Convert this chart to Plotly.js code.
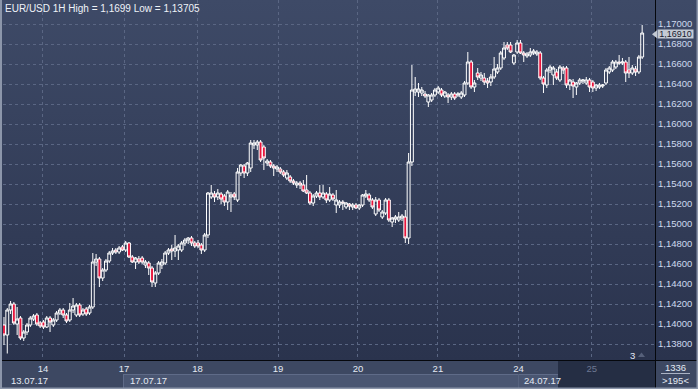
<!DOCTYPE html>
<html>
<head>
<meta charset="utf-8">
<script src="https://cdn.plot.ly/plotly-3.0.1.min.js"></script>
<style>
html,body{margin:0;padding:0;background:#2a334d;}
#chart{width:698px;height:389px;background:linear-gradient(to bottom,#3e4a67 0px,#2a334d 361px,#2a334d 389px);}
</style>
</head>
<body>
<div id="chart"></div>
<script>
// ---- data (EUR/USD 1H candles) ----
const O = [1.1399,1.1389,1.1414,1.1420,1.1400,1.1406,1.1386,1.1392,1.1399,1.1405,1.1409,1.1401,1.1402,1.1397,1.1406,1.1399,1.1404,1.1411,1.1414,1.1409,
1.1404,1.1414,1.1409,1.1419,1.1410,1.1415,1.1411,1.1417,1.1462,1.1465,1.1446,1.1454,1.1463,1.1471,1.1474,1.1472,1.1477,1.1474,1.1481,1.1467,
1.1462,1.1465,1.1466,1.1459,1.1461,1.1456,1.1441,1.1451,1.1459,1.1461,1.1471,1.1475,1.1473,1.1474,1.1474,1.1481,1.1484,1.1486,1.1481,1.1481,
1.1479,1.1474,1.1489,1.1527,1.1530,1.1527,1.1530,1.1528,1.1522,1.1527,1.1530,1.1524,1.1551,1.1558,1.1551,1.1556,1.1579,1.1579,1.1582,
1.1577,1.1561,1.1562,1.1558,1.1555,1.1555,1.1552,1.1546,1.1547,1.1543,1.1539,1.1541,1.1539,1.1534,1.1531,1.1521,1.1528,1.1531,
1.1527,1.1530,1.1524,1.1529,1.1519,1.1519,1.1522,1.1517,1.1520,1.1517,1.1519,1.1516,1.1519,1.1528,1.1529,1.1524,1.1510,1.1524,1.1507,1.1511,
1.1524,1.1502,1.1505,1.1504,1.1506,1.1507,1.1486,1.1562,1.1632,1.1632,1.1631,1.1630,1.1622,1.1624,1.1629,1.1632,1.1634,1.1628,1.1629,1.1627,
1.1630,1.1629,1.1627,1.1629,1.1641,1.1662,1.1637,1.1651,1.1646,1.1646,1.1643,1.1642,1.1647,1.1652,1.1656,1.1666,1.1679,1.1679,1.1661,1.1672,
1.1681,1.1671,1.1668,1.1669,1.1671,1.1670,1.1671,1.1646,1.1639,1.1654,1.1649,1.1652,1.1644,1.1656,1.1656,1.1639,1.1642,1.1637,1.1641,1.1643,
1.1641,1.1644,1.1642,1.1636,1.1637,1.1638,1.1641,1.1652,1.1654,1.1657,1.1662,1.1661,1.1662,1.1654,1.1651,1.1655,1.1652,1.1667];
const H = [1.1407,1.1416,1.1423,1.1422,1.1417,1.1408,1.1394,1.1401,1.1408,1.1410,1.1411,1.1403,1.1404,1.1408,1.1408,1.1406,1.1413,1.1416,1.1416,1.1411,
1.1421,1.1426,1.1421,1.1421,1.1416,1.1417,1.1419,1.1471,1.1470,1.1467,1.1456,1.1465,1.1473,1.1476,1.1476,1.1478,1.1479,1.1483,1.1482,1.1469,
1.1467,1.1468,1.1468,1.1464,1.1463,1.1458,1.1453,1.1463,1.1465,1.1473,1.1476,1.1479,1.1489,1.1480,1.1483,1.1486,1.1487,1.1488,1.1483,1.1484,
1.1481,1.1491,1.1532,1.1539,1.1533,1.1535,1.1532,1.1530,1.1534,1.1532,1.1532,1.1556,1.1560,1.1560,1.1562,1.1584,1.1584,1.1584,1.1584,
1.1579,1.1565,1.1564,1.1560,1.1559,1.1557,1.1554,1.1554,1.1549,1.1545,1.1543,1.1543,1.1544,1.1549,1.1533,1.1530,1.1533,1.1539,
1.1539,1.1532,1.1537,1.1531,1.1534,1.1524,1.1524,1.1522,1.1521,1.1521,1.1521,1.1520,1.1530,1.1534,1.1531,1.1526,1.1527,1.1526,1.1514,1.1526,
1.1526,1.1507,1.1509,1.1512,1.1510,1.1514,1.1571,1.1659,1.1647,1.1641,1.1637,1.1633,1.1630,1.1631,1.1636,1.1638,1.1636,1.1633,1.1631,1.1632,
1.1632,1.1632,1.1633,1.1643,1.1672,1.1664,1.1644,1.1656,1.1652,1.1651,1.1646,1.1650,1.1667,1.1660,1.1673,1.1682,1.1682,1.1682,1.1670,1.1684,
1.1684,1.1673,1.1672,1.1676,1.1675,1.1674,1.1673,1.1648,1.1656,1.1659,1.1658,1.1655,1.1659,1.1658,1.1658,1.1645,1.1645,1.1642,1.1646,1.1645,
1.1647,1.1646,1.1644,1.1640,1.1641,1.1640,1.1656,1.1658,1.1664,1.1664,1.1669,1.1666,1.1664,1.1667,1.1659,1.1658,1.1669,1.1699];
const L = [1.1379,1.13705,1.1410,1.1399,1.1389,1.1384,1.1383,1.1389,1.1397,1.1403,1.1398,1.1396,1.1395,1.1396,1.1392,1.1397,1.1402,1.1409,1.1406,1.1401,
1.1402,1.1411,1.1407,1.1407,1.1408,1.1408,1.1409,1.1415,1.1458,1.1437,1.1443,1.1452,1.1461,1.1469,1.1470,1.1470,1.1473,1.1472,1.1466,1.1461,
1.1455,1.1460,1.1460,1.1456,1.1449,1.1437,1.1437,1.1449,1.1455,1.1459,1.1469,1.1464,1.1467,1.1464,1.1472,1.1478,1.1480,1.1478,1.1476,1.1476,
1.1470,1.1472,1.1486,1.1525,1.1522,1.1524,1.1520,1.1518,1.1514,1.1512,1.1524,1.1522,1.1548,1.1546,1.1548,1.1552,1.1575,1.1574,1.1562,
1.1554,1.1558,1.1556,1.1548,1.1552,1.1550,1.1547,1.1544,1.1541,1.1539,1.1536,1.1535,1.1532,1.1530,1.1519,1.1518,1.1526,1.1524,
1.1525,1.1521,1.1522,1.1523,1.1511,1.1516,1.1514,1.1515,1.1514,1.1514,1.1515,1.1514,1.1517,1.1526,1.1522,1.1515,1.1508,1.1512,1.1505,1.1509,
1.1502,1.1497,1.1501,1.1502,1.1503,1.1481,1.1480,1.1558,1.1628,1.1627,1.1628,1.1626,1.1617,1.1622,1.1627,1.1630,1.1627,1.1626,1.1621,1.1624,
1.1624,1.1627,1.1625,1.1627,1.1639,1.1635,1.1632,1.1644,1.1643,1.1639,1.1636,1.1638,1.1645,1.1650,1.1654,1.1664,1.1674,1.1671,1.1659,1.1670,
1.1670,1.1662,1.1666,1.1667,1.1669,1.1668,1.1644,1.1631,1.1636,1.1651,1.1639,1.1644,1.1642,1.1650,1.1636,1.1634,1.1626,1.1629,1.1639,1.1640,
1.1639,1.1632,1.1632,1.1633,1.1635,1.1636,1.1639,1.1650,1.1652,1.1655,1.1659,1.1659,1.1642,1.1646,1.1649,1.1648,1.1650,1.1665];
const C = [1.1389,1.1414,1.1420,1.1401,1.1405,1.1386,1.1392,1.1399,1.1406,1.1408,1.1400,1.1398,1.1397,1.1406,1.1402,1.1404,1.1411,1.1414,1.1409,1.1403,
1.1414,1.1418,1.1419,1.1409,1.1414,1.1410,1.1417,1.1462,1.1465,1.1446,1.1454,1.1463,1.1471,1.1473,1.1472,1.1476,1.1474,1.1481,1.1467,1.1462,
1.1466,1.1462,1.1462,1.1462,1.1456,1.1442,1.1451,1.1461,1.1462,1.1471,1.1474,1.1473,1.1476,1.1478,1.1481,1.1484,1.1486,1.1481,1.1478,1.1478,
1.1474,1.1489,1.1531,1.1531,1.1527,1.1531,1.1525,1.1522,1.1532,1.1529,1.1527,1.1552,1.1559,1.1551,1.1561,1.1581,1.1581,1.1582,1.1564,
1.1566,1.1563,1.1558,1.1556,1.1557,1.1552,1.1549,1.1551,1.1543,1.1541,1.1541,1.1539,1.1533,1.1531,1.1521,1.1528,1.1531,1.1527,
1.1531,1.1524,1.1530,1.1525,1.1524,1.1522,1.1521,1.1521,1.1518,1.1519,1.1516,1.1519,1.1529,1.1530,1.1524,1.1517,1.1524,1.1514,1.1512,1.1524,
1.1504,1.1506,1.1507,1.1507,1.1508,1.1486,1.1562,1.1634,1.1635,1.1635,1.1634,1.1628,1.1629,1.1629,1.1634,1.1636,1.1629,1.1632,1.1627,1.1630,
1.1626,1.1630,1.1631,1.1641,1.1662,1.1637,1.1641,1.1647,1.1649,1.1642,1.1641,1.1647,1.1655,1.1656,1.1671,1.1676,1.1676,1.1672,1.1669,1.1681,
1.1671,1.1669,1.1670,1.1672,1.1673,1.1672,1.1646,1.1640,1.1654,1.1657,1.1656,1.1646,1.1657,1.1654,1.1639,1.1644,1.1638,1.1641,1.1644,1.1644,
1.1644,1.1637,1.1636,1.1639,1.1639,1.1639,1.1654,1.1656,1.1662,1.1662,1.1661,1.1662,1.1651,1.1651,1.1656,1.1652,1.1667,1.1691];

const dayTickPos = [11.85, 36.5, 58.8, 83.3, 107.6, 131.9, 156.4, 178.7];
const dayTickText = ['14','17','18','19','20','21','24','<span style="color:#6d7892">25</span>'];
const priceTicks = [1.138,1.140,1.142,1.144,1.146,1.148,1.150,1.152,1.154,1.156,1.158,1.160,1.162,1.164,1.166,1.168,1.170];
const dateLabels = ['13.07.17','17.07.17','24.07.17'];
const titleText = 'EUR/USD 1H High = 1,1699 Low = 1,13705';
const lastPriceText = '1,16910';
const lastPrice = 1.1691;
const barsText = ['1336','>195<'];
const cornerText = '3';

// ---- layout helpers (pixel -> paper) ----
const W = 698, Hh = 389, ML = 3, MR = 43, MT = 0, MB = 28;
const PW = W - ML - MR, PH = Hh - MT - MB;
const px = v => (v - ML) / PW;
const py = v => (Hh - MB - v) / PH;
const rect = (x0, y0, x1, y1, fill, layer) => ({type:'rect', xref:'paper', yref:'paper', x0:px(x0), x1:px(x1), y0:py(y1), y1:py(y0), fillcolor:fill, line:{width:0}, layer:layer || 'below'});
const hline = (x0, x1, y, color, layer) => ({type:'line', xref:'paper', yref:'paper', x0:px(x0), x1:px(x1), y0:py(y), y1:py(y), line:{color:color, width:1}, layer:layer || 'below'});
const vline = (x, y0, y1, color, layer) => ({type:'line', xref:'paper', yref:'paper', x0:px(x), x1:px(x), y0:py(y0), y1:py(y1), line:{color:color, width:1}, layer:layer || 'below'});
const path = (pts, fill) => ({type:'path', xref:'paper', yref:'paper', path:'M' + pts.map(p => px(p[0]) + ',' + py(p[1])).join(' L') + ' Z', fillcolor:fill, line:{width:0}, layer:'above'});

const FONT = 'Liberation Sans, Arial, sans-serif';
const idx = C.map((_, i) => i);
const yPx = v => 24 + (1.170 - v) * 10000;

const trace = {
  type:'candlestick', x:idx, open:O, high:H, low:L, close:C,
  increasing:{line:{color:'#ffffff', width:1}, fillcolor:'rgba(0,0,0,0)'},
  decreasing:{line:{color:'#ffffff', width:1}, fillcolor:'#e8153c'},
  whiskerwidth:0, hoverinfo:'skip', showlegend:false
};

const priceBoxY = yPx(lastPrice) + 1.3;

const shapes = [
  rect(0, 361, 698, 389, '#3d4862'),
  rect(123, 374, 558, 388, '#4a5672'),
  hline(123, 558, 374.5, '#5f6b88'),
  vline(123.5, 374, 388, '#5f6b88'),
  vline(518.5, 374, 388, '#56627e'),
  rect(558, 361, 655, 388, '#252e44'),
  hline(661, 690, 373.5, '#aab3c4'),
  hline(0, 698, 360.5, '#05070c', 'above'),
  vline(655.5, 0, 389, '#05070c', 'above'),
  rect(0, 0, 2, 389, '#8c96aa', 'above'),
  rect(0, 387.5, 698, 389, '#8c96aa', 'above'),
  rect(696.5, 0, 698, 389, '#8c96aa', 'above'),
  path([[652, priceBoxY], [657, priceBoxY - 4], [657, priceBoxY + 4]], '#c4cad4'),
  path([[638, 357], [645, 357], [641.5, 352.5]], '#56607a')
];

const ann = (text, x, y, opts) => Object.assign({xref:'paper', yref:'paper', x:px(x), y:py(y), text:text, showarrow:false, xanchor:'left', yanchor:'middle', font:{family:FONT, size:9.5, color:'#e4eaf4'}}, opts || {});

const annotations = [
  ann(titleText, 3, 8.5, {font:{family:FONT, size:10, color:'#eef2f8'}}),
  ann(dateLabels[0], 9, 381),
  ann(dateLabels[1], 128, 381),
  ann(dateLabels[2], 522, 381),
  ann(barsText[0], 675.5, 367, {xanchor:'center'}),
  ann(barsText[1], 675.5, 381, {xanchor:'center'}),
  ann(cornerText, 632.5, 355, {xanchor:'center'}),
  ann(lastPriceText, 657, priceBoxY, {bgcolor:'#c4cad4', width:35, height:8, borderpad:0, font:{family:FONT, size:9, color:'#18202e'}})
];

const layout = {
  width:W, height:Hh,
  margin:{l:ML, r:MR, t:MT, b:MB, pad:0},
  paper_bgcolor:'rgba(0,0,0,0)', plot_bgcolor:'rgba(0,0,0,0)',
  separators:', ',
  showlegend:false,
  dragmode:false,
  boxgap:0.12, boxgroupgap:0,
  xaxis:{
    range:[-0.3, 197.9], tickmode:'array', tickvals:dayTickPos, ticktext:dayTickText,
    showgrid:true, gridcolor:'#5a6683', gridwidth:1, griddash:'3px,3px',
    zeroline:false, showline:false, ticks:'', rangeslider:{visible:false},
    tickfont:{family:FONT, size:9.5, color:'#e4eaf4'}, ticklabelstandoff:0, fixedrange:true
  },
  yaxis:{
    side:'right', range:[1.1363, 1.1724], tickmode:'array', tickvals:priceTicks, tickformat:'.5f',
    showgrid:true, gridcolor:'#5a6683', gridwidth:1, griddash:'3px,3px',
    zeroline:false, showline:false, ticks:'',
    tickfont:{family:FONT, size:9.5, color:'#cdd9ee'}, ticklabelstandoff:2, fixedrange:true
  },
  shapes:shapes,
  annotations:annotations
};

Plotly.newPlot('chart', [trace], layout, {displayModeBar:false, staticPlot:true});
</script>
</body>
</html>
